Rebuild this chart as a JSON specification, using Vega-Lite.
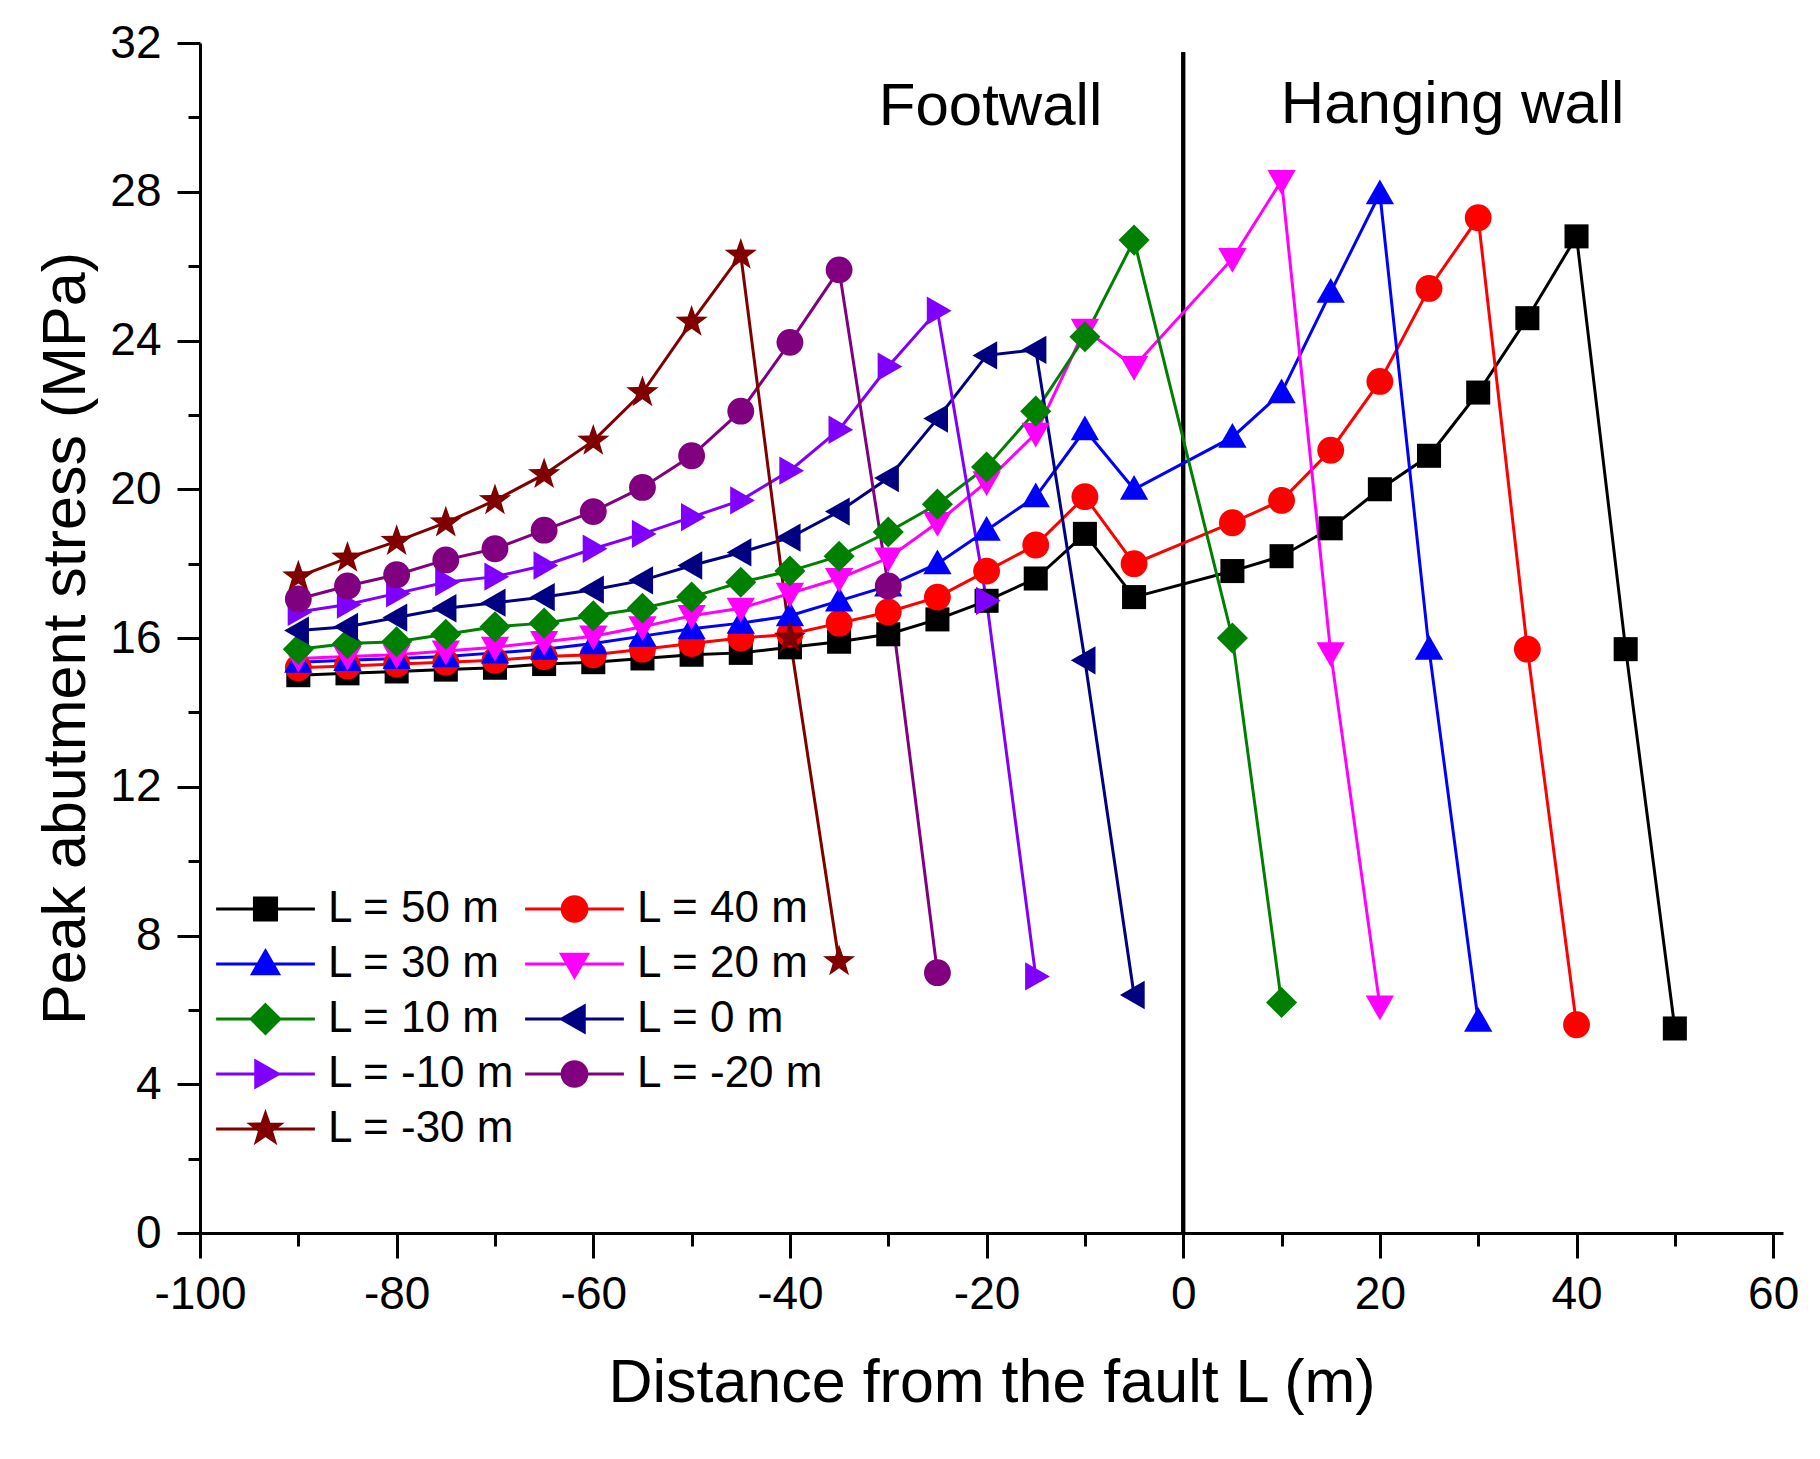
{
  "$schema": "https://vega.github.io/schema/vega-lite/v6.json",
  "width": 1583,
  "height": 1190,
  "autosize": {"type": "none"},
  "padding": {"left": 200, "top": 43, "right": 37, "bottom": 226},
  "background": "white",
  "config": {
    "font": "Liberation Sans",
    "view": {"stroke": null},
    "axis": {"grid": false, "domainColor": "black", "tickColor": "black", "labelColor": "black", "titleColor": "black", "domainWidth": 3, "tickWidth": 3, "titleFontWeight": "normal"},
    "legend": {
      "orient": "none", "direction": "horizontal", "columns": 2, "padding": 0,
      "columnPadding": -3, "rowPadding": 11,
      "labelFontSize": 44, "labelColor": "black", "labelLimit": 400,
      "symbolSize": 676, "symbolStrokeWidth": 3, "symbolOpacity": 1,
      "symbolOffset": 36.5, "labelOffset": 40.5
    }
  },
  "datasets": {
    "stress": [
      {"L":"L = 50 m","x":-90,"y":15.0},{"L":"L = 50 m","x":-85,"y":15.05},{"L":"L = 50 m","x":-80,"y":15.1},{"L":"L = 50 m","x":-75,"y":15.15},{"L":"L = 50 m","x":-70,"y":15.2},{"L":"L = 50 m","x":-65,"y":15.3},{"L":"L = 50 m","x":-60,"y":15.35},{"L":"L = 50 m","x":-55,"y":15.45},{"L":"L = 50 m","x":-50,"y":15.55},{"L":"L = 50 m","x":-45,"y":15.6},{"L":"L = 50 m","x":-40,"y":15.75},{"L":"L = 50 m","x":-35,"y":15.9},{"L":"L = 50 m","x":-30,"y":16.1},{"L":"L = 50 m","x":-25,"y":16.5},{"L":"L = 50 m","x":-20,"y":17.0},{"L":"L = 50 m","x":-15,"y":17.6},{"L":"L = 50 m","x":-10,"y":18.8},{"L":"L = 50 m","x":-5,"y":17.1},{"L":"L = 50 m","x":5,"y":17.8},{"L":"L = 50 m","x":10,"y":18.2},{"L":"L = 50 m","x":15,"y":18.95},{"L":"L = 50 m","x":20,"y":20.0},{"L":"L = 50 m","x":25,"y":20.9},{"L":"L = 50 m","x":30,"y":22.6},{"L":"L = 50 m","x":35,"y":24.6},{"L":"L = 50 m","x":40,"y":26.8},{"L":"L = 50 m","x":45,"y":15.7},{"L":"L = 50 m","x":50,"y":5.5},
      {"L":"L = 40 m","x":-90,"y":15.2},{"L":"L = 40 m","x":-85,"y":15.25},{"L":"L = 40 m","x":-80,"y":15.3},{"L":"L = 40 m","x":-75,"y":15.35},{"L":"L = 40 m","x":-70,"y":15.4},{"L":"L = 40 m","x":-65,"y":15.5},{"L":"L = 40 m","x":-60,"y":15.55},{"L":"L = 40 m","x":-55,"y":15.7},{"L":"L = 40 m","x":-50,"y":15.85},{"L":"L = 40 m","x":-45,"y":16.0},{"L":"L = 40 m","x":-40,"y":16.1},{"L":"L = 40 m","x":-35,"y":16.4},{"L":"L = 40 m","x":-30,"y":16.7},{"L":"L = 40 m","x":-25,"y":17.1},{"L":"L = 40 m","x":-20,"y":17.8},{"L":"L = 40 m","x":-15,"y":18.5},{"L":"L = 40 m","x":-10,"y":19.8},{"L":"L = 40 m","x":-5,"y":18.0},{"L":"L = 40 m","x":5,"y":19.1},{"L":"L = 40 m","x":10,"y":19.7},{"L":"L = 40 m","x":15,"y":21.05},{"L":"L = 40 m","x":20,"y":22.9},{"L":"L = 40 m","x":25,"y":25.4},{"L":"L = 40 m","x":30,"y":27.3},{"L":"L = 40 m","x":35,"y":15.7},{"L":"L = 40 m","x":40,"y":5.6},
      {"L":"L = 30 m","x":-90,"y":15.35},{"L":"L = 30 m","x":-85,"y":15.4},{"L":"L = 30 m","x":-80,"y":15.45},{"L":"L = 30 m","x":-75,"y":15.5},{"L":"L = 30 m","x":-70,"y":15.6},{"L":"L = 30 m","x":-65,"y":15.7},{"L":"L = 30 m","x":-60,"y":15.85},{"L":"L = 30 m","x":-55,"y":16.05},{"L":"L = 30 m","x":-50,"y":16.25},{"L":"L = 30 m","x":-45,"y":16.4},{"L":"L = 30 m","x":-40,"y":16.6},{"L":"L = 30 m","x":-35,"y":17.0},{"L":"L = 30 m","x":-30,"y":17.4},{"L":"L = 30 m","x":-25,"y":18.0},{"L":"L = 30 m","x":-20,"y":18.9},{"L":"L = 30 m","x":-15,"y":19.8},{"L":"L = 30 m","x":-10,"y":21.6},{"L":"L = 30 m","x":-5,"y":20.0},{"L":"L = 30 m","x":5,"y":21.4},{"L":"L = 30 m","x":10,"y":22.6},{"L":"L = 30 m","x":15,"y":25.3},{"L":"L = 30 m","x":20,"y":27.95},{"L":"L = 30 m","x":25,"y":15.7},{"L":"L = 30 m","x":30,"y":5.7},
      {"L":"L = 20 m","x":-90,"y":15.45},{"L":"L = 20 m","x":-85,"y":15.5},{"L":"L = 20 m","x":-80,"y":15.55},{"L":"L = 20 m","x":-75,"y":15.65},{"L":"L = 20 m","x":-70,"y":15.75},{"L":"L = 20 m","x":-65,"y":15.9},{"L":"L = 20 m","x":-60,"y":16.05},{"L":"L = 20 m","x":-55,"y":16.3},{"L":"L = 20 m","x":-50,"y":16.6},{"L":"L = 20 m","x":-45,"y":16.8},{"L":"L = 20 m","x":-40,"y":17.2},{"L":"L = 20 m","x":-35,"y":17.6},{"L":"L = 20 m","x":-30,"y":18.15},{"L":"L = 20 m","x":-25,"y":19.1},{"L":"L = 20 m","x":-20,"y":20.2},{"L":"L = 20 m","x":-15,"y":21.5},{"L":"L = 20 m","x":-10,"y":24.3},{"L":"L = 20 m","x":-5,"y":23.3},{"L":"L = 20 m","x":5,"y":26.2},{"L":"L = 20 m","x":10,"y":28.3},{"L":"L = 20 m","x":15,"y":15.6},{"L":"L = 20 m","x":20,"y":6.1},
      {"L":"L = 10 m","x":-90,"y":15.7},{"L":"L = 10 m","x":-85,"y":15.85},{"L":"L = 10 m","x":-80,"y":15.9},{"L":"L = 10 m","x":-75,"y":16.1},{"L":"L = 10 m","x":-70,"y":16.3},{"L":"L = 10 m","x":-65,"y":16.4},{"L":"L = 10 m","x":-60,"y":16.6},{"L":"L = 10 m","x":-55,"y":16.8},{"L":"L = 10 m","x":-50,"y":17.1},{"L":"L = 10 m","x":-45,"y":17.5},{"L":"L = 10 m","x":-40,"y":17.8},{"L":"L = 10 m","x":-35,"y":18.2},{"L":"L = 10 m","x":-30,"y":18.85},{"L":"L = 10 m","x":-25,"y":19.6},{"L":"L = 10 m","x":-20,"y":20.6},{"L":"L = 10 m","x":-15,"y":22.1},{"L":"L = 10 m","x":-10,"y":24.1},{"L":"L = 10 m","x":-5,"y":26.7},{"L":"L = 10 m","x":5,"y":16.0},{"L":"L = 10 m","x":10,"y":6.2},
      {"L":"L = 0 m","x":-90,"y":16.2},{"L":"L = 0 m","x":-85,"y":16.3},{"L":"L = 0 m","x":-80,"y":16.55},{"L":"L = 0 m","x":-75,"y":16.8},{"L":"L = 0 m","x":-70,"y":16.95},{"L":"L = 0 m","x":-65,"y":17.1},{"L":"L = 0 m","x":-60,"y":17.3},{"L":"L = 0 m","x":-55,"y":17.55},{"L":"L = 0 m","x":-50,"y":17.95},{"L":"L = 0 m","x":-45,"y":18.3},{"L":"L = 0 m","x":-40,"y":18.7},{"L":"L = 0 m","x":-35,"y":19.4},{"L":"L = 0 m","x":-30,"y":20.3},{"L":"L = 0 m","x":-25,"y":21.9},{"L":"L = 0 m","x":-20,"y":23.6},{"L":"L = 0 m","x":-15,"y":23.75},{"L":"L = 0 m","x":-10,"y":15.4},{"L":"L = 0 m","x":-5,"y":6.4},
      {"L":"L = -10 m","x":-90,"y":16.7},{"L":"L = -10 m","x":-85,"y":16.9},{"L":"L = -10 m","x":-80,"y":17.2},{"L":"L = -10 m","x":-75,"y":17.5},{"L":"L = -10 m","x":-70,"y":17.65},{"L":"L = -10 m","x":-65,"y":17.95},{"L":"L = -10 m","x":-60,"y":18.4},{"L":"L = -10 m","x":-55,"y":18.8},{"L":"L = -10 m","x":-50,"y":19.25},{"L":"L = -10 m","x":-45,"y":19.7},{"L":"L = -10 m","x":-40,"y":20.5},{"L":"L = -10 m","x":-35,"y":21.6},{"L":"L = -10 m","x":-30,"y":23.3},{"L":"L = -10 m","x":-25,"y":24.8},{"L":"L = -10 m","x":-20,"y":17.0},{"L":"L = -10 m","x":-15,"y":6.9},
      {"L":"L = -20 m","x":-90,"y":17.05},{"L":"L = -20 m","x":-85,"y":17.4},{"L":"L = -20 m","x":-80,"y":17.7},{"L":"L = -20 m","x":-75,"y":18.1},{"L":"L = -20 m","x":-70,"y":18.4},{"L":"L = -20 m","x":-65,"y":18.9},{"L":"L = -20 m","x":-60,"y":19.4},{"L":"L = -20 m","x":-55,"y":20.05},{"L":"L = -20 m","x":-50,"y":20.9},{"L":"L = -20 m","x":-45,"y":22.1},{"L":"L = -20 m","x":-40,"y":23.95},{"L":"L = -20 m","x":-35,"y":25.9},{"L":"L = -20 m","x":-30,"y":17.4},{"L":"L = -20 m","x":-25,"y":7.0},
      {"L":"L = -30 m","x":-90,"y":17.65},{"L":"L = -30 m","x":-85,"y":18.15},{"L":"L = -30 m","x":-80,"y":18.6},{"L":"L = -30 m","x":-75,"y":19.1},{"L":"L = -30 m","x":-70,"y":19.7},{"L":"L = -30 m","x":-65,"y":20.4},{"L":"L = -30 m","x":-60,"y":21.3},{"L":"L = -30 m","x":-55,"y":22.6},{"L":"L = -30 m","x":-50,"y":24.5},{"L":"L = -30 m","x":-45,"y":26.3},{"L":"L = -30 m","x":-40,"y":16.0},{"L":"L = -30 m","x":-35,"y":7.3}
    ],
    "notes": [
      {"t": "Footwall", "x": -19.6, "y": 29.8},
      {"t": "Hanging wall", "x": 27.4, "y": 29.85}
    ]
  },
  "resolve": {
    "axis": {"x": "independent", "y": "independent"},
    "scale": {"shape": "independent"},
    "legend": {"color": "independent", "shape": "independent", "stroke": "independent"}
  },
  "layer": [
    {
      "data": {"name": "notes"},
      "mark": {"type": "rule", "color": "black", "strokeWidth": 4},
      "encoding": {
        "x": {"datum": 0, "type": "quantitative", "axis": null},
        "y": {"datum": 0, "type": "quantitative", "axis": null},
        "y2": {"datum": 31.75}
      }
    },
    {
      "data": {"name": "stress"},
      "mark": {"type": "line", "strokeWidth": 3},
      "encoding": {
        "x": {
          "field": "x", "type": "quantitative",
          "scale": {"domain": [-100, 61], "nice": false, "zero": false},
          "axis": {"orient": "bottom", "values": [-100, -80, -60, -40, -20, 0, 20, 40, 60], "labelExpr": "'' + datum.value", "title": "Distance from the fault L (m)", "titleFontSize": 61, "titlePadding": 36, "labelFontSize": 46, "labelPadding": 14, "tickSize": 25, "labelFlush": false, "labelOverlap": false}
        },
        "y": {
          "field": "y", "type": "quantitative",
          "scale": {"domain": [0, 32], "nice": false},
          "axis": {"orient": "left", "values": [0, 4, 8, 12, 16, 20, 24, 28, 32], "title": "Peak abutment stress (MPa)", "titleFontSize": 61, "titlePadding": 12, "labelFontSize": 46, "labelPadding": 16, "tickSize": 23, "labelFlush": false, "labelOverlap": false}
        },
        "color": {
          "field": "L", "type": "nominal", "legend": null,
          "scale": {
            "domain": ["L = 50 m", "L = 40 m", "L = 30 m", "L = 20 m", "L = 10 m", "L = 0 m", "L = -10 m", "L = -20 m", "L = -30 m"],
            "range": ["#000000", "#FF0000", "#0000FF", "#FF00FF", "#008000", "#000080", "#8000FF", "#800080", "#800000"]
          }
        },
        "detail": {"field": "L"}
      }
    },
    {
      "data": {"name": "stress"},
      "mark": {"type": "point", "filled": true, "opacity": 1, "size": 800},
      "encoding": {
        "x": {"field": "x", "type": "quantitative", "axis": null},
        "y": {"field": "y", "type": "quantitative", "axis": null},
        "color": {"field": "L", "type": "nominal", "legend": null},
        "shape": {
          "field": "L", "type": "nominal", "legend": null,
          "scale": {
            "domain": ["L = 50 m", "L = 40 m", "L = 30 m", "L = 20 m", "L = 10 m", "L = 0 m", "L = -10 m", "L = -20 m", "L = -30 m"],
            "range": [
              "M-0.85,-0.85H0.85V0.85H-0.85Z",
              "M0.95,0A0.95,0.95 0 1,1 -0.95,0A0.95,0.95 0 1,1 0.95,0Z",
              "M0,-1L1,0.75L-1,0.75Z",
              "M0,1L1,-0.75L-1,-0.75Z",
              "M0,-1.1L1.1,0L0,1.1L-1.1,0Z",
              "M-1,0L0.75,-1L0.75,1Z",
              "M1,0L-0.75,-1L-0.75,1Z",
              "M0.95,0A0.95,0.95 0 1,1 -0.95,0A0.95,0.95 0 1,1 0.95,0Z",
              "M0,-1.2L0.282,-0.388L1.141,-0.371L0.456,0.148L0.705,0.971L0,0.48L-0.705,0.971L-0.456,0.148L-1.141,-0.371L-0.282,-0.388Z"
            ]
          }
        }
      }
    },
    {
      "data": {"name": "notes"},
      "mark": {"type": "text", "fontSize": 60, "color": "black", "align": "center", "baseline": "alphabetic"},
      "encoding": {
        "x": {"field": "x", "type": "quantitative", "axis": {"orient": "bottom", "values": [-90, -70, -50, -30, -10, 10, 30, 50], "labels": false, "domain": false, "tickSize": 13, "title": null}},
        "y": {"field": "y", "type": "quantitative", "axis": {"orient": "left", "values": [2, 6, 10, 14, 18, 22, 26, 30], "labels": false, "domain": false, "tickSize": 12, "title": null}},
        "text": {"field": "t"}
      }
    },
    {
      "data": {"name": "stress"},
      "mark": {"type": "point", "filled": true, "opacity": 0, "size": 676, "strokeWidth": 3},
      "encoding": {
        "x": {"field": "x", "type": "quantitative", "axis": null},
        "y": {"field": "y", "type": "quantitative", "axis": null},
        "color": {"field": "L", "type": "nominal", "legend": {"title": null, "legendX": 7, "legendY": 844}},
        "stroke": {
          "field": "L", "type": "nominal", "legend": {"title": null, "legendX": 7, "legendY": 844},
          "scale": {
            "domain": ["L = 50 m", "L = 40 m", "L = 30 m", "L = 20 m", "L = 10 m", "L = 0 m", "L = -10 m", "L = -20 m", "L = -30 m"],
            "range": ["#000000", "#FF0000", "#0000FF", "#FF00FF", "#008000", "#000080", "#8000FF", "#800080", "#800000"]
          }
        },
        "shape": {
          "field": "L", "type": "nominal", "legend": {"title": null, "legendX": 7, "legendY": 844},
          "scale": {
            "domain": ["L = 50 m", "L = 40 m", "L = 30 m", "L = 20 m", "L = 10 m", "L = 0 m", "L = -10 m", "L = -20 m", "L = -30 m"],
            "range": [
              "M-3.8,0H3.8M-0.85,-0.85H0.85V0.85H-0.85Z",
              "M-3.8,0H3.8M0.95,0A0.95,0.95 0 1,1 -0.95,0A0.95,0.95 0 1,1 0.95,0Z",
              "M-3.8,0H3.8M0,-1L1,0.75L-1,0.75Z",
              "M-3.8,0H3.8M0,1L1,-0.75L-1,-0.75Z",
              "M-3.8,0H3.8M0,-1.1L1.1,0L0,1.1L-1.1,0Z",
              "M-3.8,0H3.8M-1,0L0.75,-1L0.75,1Z",
              "M-3.8,0H3.8M1,0L-0.75,-1L-0.75,1Z",
              "M-3.8,0H3.8M0.95,0A0.95,0.95 0 1,1 -0.95,0A0.95,0.95 0 1,1 0.95,0Z",
              "M-3.8,0H3.8M0,-1.2L0.282,-0.388L1.141,-0.371L0.456,0.148L0.705,0.971L0,0.48L-0.705,0.971L-0.456,0.148L-1.141,-0.371L-0.282,-0.388Z"
            ]
          }
        }
      }
    }
  ]
}
